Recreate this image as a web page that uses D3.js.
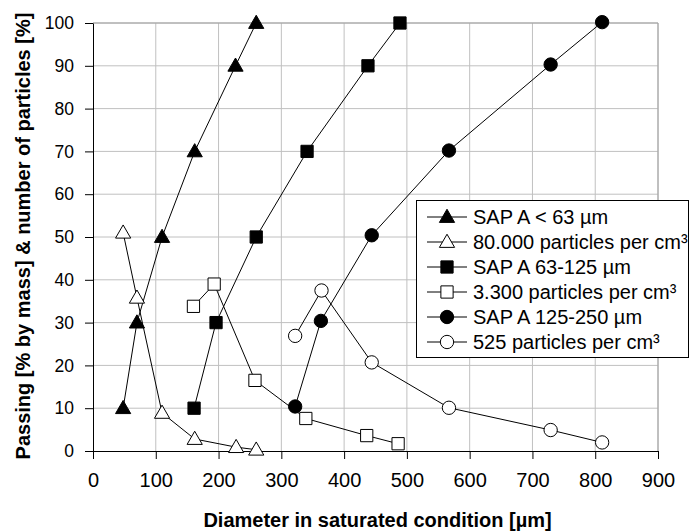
<!DOCTYPE html>
<html>
<head>
<meta charset="utf-8">
<script src="https://cdn.jsdelivr.net/npm/d3@7"></script>
<style>
  body { margin: 0; background: #fff; }
  text { font-family: "Liberation Sans", Arial, sans-serif; fill: #000; }
</style>
</head>
<body>
<svg id="chart" width="689" height="532"></svg>
<script>
// diameter [µm] and passing / number of particles [%]
const sapSmallX = [48, 70, 110, 162, 227, 260];
const sapSmallY = [10, 30, 50, 70, 90, 100];
const part80X = [48, 70, 110, 162, 228, 260];
const part80Y = [51, 35.8, 8.9, 2.8, 0.9, 0.3];
const sapMidX = [161, 196, 260, 341, 438, 489];
const sapMidY = [10, 30, 50, 70, 90, 100];
const part33X = [160, 193, 258, 339, 436, 486];
const part33Y = [33.8, 39, 16.5, 7.6, 3.6, 1.7];
const sapLargeX = [322, 363, 444, 567, 729, 811];
const sapLargeY = [10.4, 30.4, 50.4, 70.2, 90.3, 100.2];
const part525X = [322, 364, 444, 567, 729, 811];
const part525Y = [26.9, 37.5, 20.7, 10.1, 4.9, 2.0];

const xTicks = [0, 100, 200, 300, 400, 500, 600, 700, 800, 900];
const yTicks = [0, 10, 20, 30, 40, 50, 60, 70, 80, 90, 100];

const series = [
  { name: "SAP A < 63 µm", xs: sapSmallX, ys: sapSmallY, shape: "triangle", fill: "#000" },
  { name: "80.000 particles per cm³", xs: part80X, ys: part80Y, shape: "triangle", fill: "#fff" },
  { name: "SAP A 63-125 µm", xs: sapMidX, ys: sapMidY, shape: "square", fill: "#000" },
  { name: "3.300 particles per cm³", xs: part33X, ys: part33Y, shape: "square", fill: "#fff" },
  { name: "SAP A 125-250 µm", xs: sapLargeX, ys: sapLargeY, shape: "circle", fill: "#000" },
  { name: "525 particles per cm³", xs: part525X, ys: part525Y, shape: "circle", fill: "#fff" }
];

const svg = d3.select("#chart");
const plotL = 93, plotR = 658, plotT = 23, plotB = 451;

const x = d3.scaleLinear().domain([0, 900]).range([plotL, plotR]);
const y = d3.scaleLinear().domain([0, 100]).range([plotB, plotT]);

// grid
const grid = svg.append("g").attr("stroke", "#c0c0c0").attr("stroke-width", 1);
grid.selectAll(".gx").data(xTicks.slice(1)).join("line")
  .attr("x1", d => x(d)).attr("x2", d => x(d))
  .attr("y1", plotT).attr("y2", plotB);
grid.selectAll(".gy").data(yTicks.slice(1)).join("line")
  .attr("x1", plotL).attr("x2", plotR)
  .attr("y1", d => y(d)).attr("y2", d => y(d));
svg.append("path")
  .attr("d", `M${plotL},${plotT}H${plotR}V${plotB}`)
  .attr("fill", "none").attr("stroke", "#a0a0a0");

// axes
const xAxis = svg.append("g")
  .attr("transform", `translate(0,${plotB})`)
  .call(d3.axisBottom(x).tickValues(xTicks).tickSize(8).tickPadding(14).tickSizeOuter(0));
const yAxis = svg.append("g")
  .attr("transform", `translate(${plotL},0)`)
  .call(d3.axisLeft(y).tickValues(yTicks).tickSize(8).tickPadding(11).tickSizeOuter(0));
[xAxis, yAxis].forEach(a => {
  a.select(".domain").attr("stroke", "#000");
  a.selectAll(".tick line").attr("stroke", "#000");
  a.selectAll("text").attr("font-family", "Liberation Sans, Arial, sans-serif").attr("fill", "#000");
});
xAxis.selectAll("text").attr("font-size", 20);
yAxis.selectAll("text").attr("font-size", 17.5);

const symbolType = { triangle: d3.symbolTriangle, square: d3.symbolSquare, circle: d3.symbolCircle };
const symbolSize = { triangle: 100, square: 150, circle: 140 };
const sym = s => d3.symbol().type(symbolType[s]).size(symbolSize[s])();

const line = d3.line().x(d => x(d[0])).y(d => y(d[1]));

series.forEach(s => {
  const pts = s.xs.map((v, i) => [v, s.ys[i]]);
  const g = svg.append("g");
  g.append("path").datum(pts).attr("d", line)
    .attr("fill", "none").attr("stroke", "#000").attr("stroke-width", 1);
  g.selectAll("path.m").data(pts).join("path")
    .attr("class", "m")
    .attr("d", sym(s.shape))
    .attr("transform", d => `translate(${x(d[0])},${y(d[1]) + (s.shape === "triangle" ? 1 : 0)})`)
    .attr("fill", s.fill).attr("stroke", "#000").attr("stroke-width", 1);
});

// legend
const lg = svg.append("g");
lg.append("rect").attr("x", 416.5).attr("y", 200.5).attr("width", 272).attr("height", 157)
  .attr("fill", "#fff").attr("stroke", "#000");
series.forEach((s, i) => {
  const cy = 217 + i * 25;
  lg.append("line").attr("x1", 427).attr("x2", 467).attr("y1", cy).attr("y2", cy)
    .attr("stroke", "#000");
  lg.append("path").attr("d", sym(s.shape))
    .attr("transform", `translate(447,${cy + (s.shape === "triangle" ? 1 : 0)})`)
    .attr("fill", s.fill).attr("stroke", "#000");
  lg.append("text").attr("x", 473).attr("y", cy).attr("dy", "0.35em")
    .attr("font-size", 20).text(s.name);
});

// axis titles
svg.append("text")
  .attr("x", (plotL + plotR) / 2 + 2).attr("y", 527)
  .attr("text-anchor", "middle").attr("font-size", 20).attr("font-weight", "bold")
  .text("Diameter in saturated condition [µm]");
svg.append("text")
  .attr("transform", "translate(30,236) rotate(-90)")
  .attr("text-anchor", "middle").attr("font-size", 20).attr("font-weight", "bold")
  .text("Passing [% by mass] & number of particles [%]");
</script>
</body>
</html>
